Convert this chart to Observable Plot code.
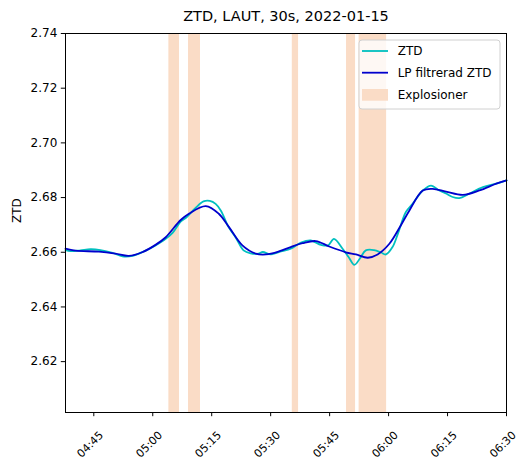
<!DOCTYPE html>
<html><head><meta charset="utf-8">
<script src="https://cdn.jsdelivr.net/npm/d3@7"></script>
<script src="https://cdn.jsdelivr.net/npm/@observablehq/plot@0.6"></script>
<style>body{margin:0;background:#fff}</style>
</head><body><div id="chart"></div>
<script>
const title = "ZTD, LAUT, 30s, 2022-01-15";
const date = "2022-01-15";
const yLabel = "ZTD";

const ztdTimes = ["04:37:48","04:39:06","04:41:36","04:44:12","04:46:42","04:49:48","04:52:18","04:54:54","04:58:12","05:00:42","05:03:18","05:05:06","05:07:06","05:08:36","05:10:54","05:12:54","05:14:30","05:16:00","05:17:18","05:19:18","05:21:06","05:23:06","05:24:54","05:26:54","05:28:00","05:30:00","05:32:36","05:35:06","05:37:42","05:40:12","05:42:48","05:44:36","05:46:06","05:48:18","05:49:54","05:51:18","05:52:42","05:54:12","05:56:18","05:58:06","05:59:18","06:01:00","06:02:24","06:04:24","06:06:06","06:08:42","06:10:48","06:12:54","06:14:36","06:16:18","06:18:00","06:20:30","06:24:00","06:27:24","06:30:00"];
const ztdValues = [2.6608,2.6604,2.6607,2.6611,2.6608,2.6598,2.6585,2.6587,2.6606,2.6625,2.6649,2.6672,2.6712,2.6728,2.6762,2.6786,2.6788,2.6777,2.6753,2.6692,2.6654,2.6607,2.6596,2.6595,2.6601,2.6592,2.6603,2.6613,2.6635,2.6643,2.6627,2.6625,2.6649,2.6613,2.6581,2.6554,2.6577,2.6607,2.6608,2.6599,2.6592,2.6619,2.6669,2.6747,2.6777,2.6826,2.6844,2.6826,2.6815,2.6802,2.6798,2.6814,2.6838,2.6851,2.6863];

const lpTimes = ["04:37:48","04:40:18","04:46:18","04:50:30","04:53:54","04:57:18","05:00:42","05:03:18","05:07:06","05:09:12","05:13:30","05:16:48","05:19:24","05:22:48","05:26:12","05:28:48","05:32:06","05:35:06","05:38:06","05:41:30","05:44:54","05:49:06","05:51:42","05:54:42","05:57:12","06:00:12","06:03:06","06:05:18","06:08:42","06:11:12","06:14:36","06:18:54","06:23:06","06:27:24","06:30:00"];
const lpValues = [2.6613,2.6606,2.6602,2.6595,2.6587,2.6600,2.6627,2.6655,2.6718,2.6741,2.6769,2.6741,2.6692,2.6625,2.6595,2.6592,2.6603,2.6619,2.6633,2.6641,2.6621,2.6600,2.6592,2.6580,2.6592,2.6631,2.6698,2.6753,2.6826,2.6832,2.6822,2.6810,2.6826,2.6851,2.6863];

const explosionStart = ["05:04:06","05:09:06","05:35:30","05:49:18","05:52:30"];
const explosionEnd   = ["05:06:48","05:12:09","05:37:06","05:51:36","05:59:30"];

const xTicks = ["04:45","05:00","05:15","05:30","05:45","06:00","06:15","06:30"];
const yTicks = [2.62, 2.64, 2.66, 2.68, 2.70, 2.72, 2.74];
const xDomain = ["04:37:48", "06:30:00"];
const yDomain = [2.6014, 2.74];

const legendLabels = ["ZTD", "LP filtrerad ZTD", "Explosioner"];
const ztdColor = "#00bfbf", lpColor = "#0000cd", spanColor = "#fadcc6";

const T = s => new Date(`${date}T${s.length === 5 ? s + ":00" : s}Z`);
const ztd = ztdTimes.map((t, i) => ({t: T(t), v: ztdValues[i]}));
const lp = lpTimes.map((t, i) => ({t: T(t), v: lpValues[i]}));
const spans = explosionStart.map((s, i) => ({a: T(s), b: T(explosionEnd[i])}));
const fmt = d3.utcFormat("%H:%M");

const chart = Plot.plot({
  width: 518, height: 466,
  marginLeft: 65, marginRight: 12, marginTop: 33, marginBottom: 54,
  style: {fontFamily: "DejaVu Sans", fontSize: "12px", background: "white", color: "black"},
  x: {type: "utc", domain: xDomain.map(T)},
  y: {domain: yDomain},
  marks: [
    Plot.rect(spans, {x1: "a", x2: "b", fill: spanColor}),
    Plot.line(ztd, {x: "t", y: "v", stroke: ztdColor, strokeWidth: 1.8, curve: "catmull-rom"}),
    Plot.line(lp, {x: "t", y: "v", stroke: lpColor, strokeWidth: 1.8, curve: "catmull-rom"}),
    Plot.frame({stroke: "black", strokeWidth: 1}),
    Plot.axisY({ticks: yTicks, tickSize: 4.2, tickPadding: 4, tickFormat: d3.format(".2f"), label: null}),
    Plot.axisX({ticks: xTicks.map(T), tickSize: 4.2, tickFormat: () => "", label: null}),
    Plot.text(xTicks.map(T), {x: d => d, text: d => fmt(d), frameAnchor: "bottom", dy: 32, dx: -3.5, rotate: -45, textAnchor: "middle", lineAnchor: "middle", fontSize: 11}),
    Plot.text([yLabel], {text: d => d, frameAnchor: "left", dx: -48, rotate: -90, lineAnchor: "middle"}),
    Plot.text([title], {text: d => d, frameAnchor: "top", dy: -17, lineAnchor: "middle", fontSize: 14.5})
  ]
});

const svg = d3.select(chart);
const g = svg.append("g").attr("font-family", "DejaVu Sans").attr("font-size", 12).attr("text-anchor", "start");
g.append("rect").attr("x", 359).attr("y", 40).attr("width", 141).attr("height", 69).attr("rx", 3)
  .attr("fill", "white").attr("fill-opacity", 0.8).attr("stroke", "#d0d0d0");
const rows = [51, 72.7, 95];
g.append("line").attr("x1", 362).attr("x2", 388).attr("y1", rows[0]).attr("y2", rows[0]).attr("stroke", ztdColor).attr("stroke-width", 1.8);
g.append("line").attr("x1", 362).attr("x2", 388).attr("y1", rows[1]).attr("y2", rows[1]).attr("stroke", lpColor).attr("stroke-width", 1.8);
g.append("rect").attr("x", 362).attr("y", 89).attr("width", 26).attr("height", 11.7).attr("fill", spanColor);
legendLabels.forEach((l, i) => g.append("text").attr("x", 397.7).attr("y", rows[i]).attr("dy", "0.35em").attr("fill", "black").attr("text-anchor", "start").text(l));

document.getElementById("chart").appendChild(chart);
</script>
</body></html>
